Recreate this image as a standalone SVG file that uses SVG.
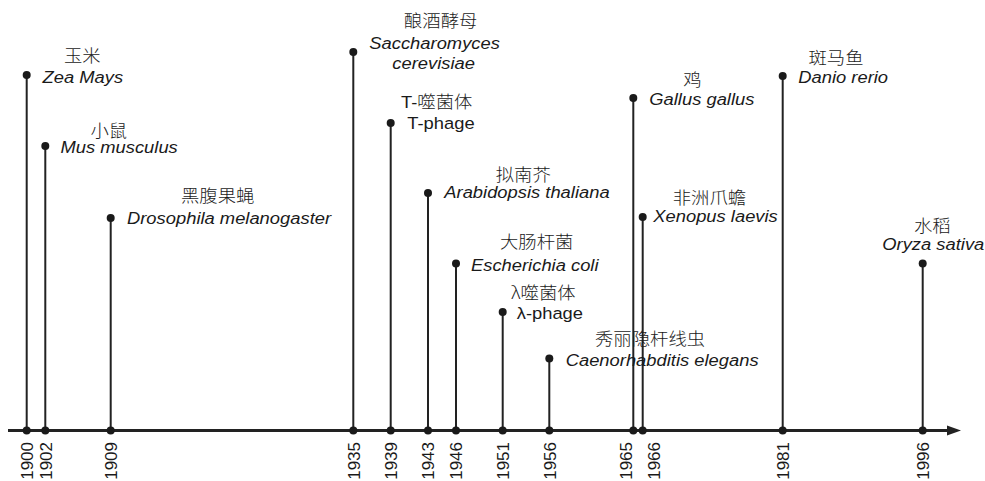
<svg xmlns="http://www.w3.org/2000/svg" width="985" height="481" viewBox="0 0 985 481">
<style>
.t{font-family:"Liberation Sans",Arial,"Noto Sans CJK SC",sans-serif;font-size:17px;fill:#1a1a1a}
.i{font-style:italic}
.zh{font-family:"Noto Sans CJK SC","Liberation Sans",sans-serif;font-weight:300}
.yr{text-anchor:end;font-size:17px}
.stem{stroke:#222;stroke-width:2;fill:none}
.dot{fill:#1a1a1a}
</style>
<rect width="985" height="481" fill="#fff"/>
<g id="connectors">
<line x1="8" y1="430.5" x2="950" y2="430.5" stroke="#222" stroke-width="3"/>
<polygon points="947,425.5 961,430.5 947,435.5" fill="#222"/>
<line class="stem" x1="26.7" y1="75" x2="26.7" y2="430"/>
<line class="stem" x1="45.3" y1="146" x2="45.3" y2="430"/>
<line class="stem" x1="110.7" y1="218" x2="110.7" y2="430"/>
<line class="stem" x1="353.3" y1="52" x2="353.3" y2="430"/>
<line class="stem" x1="390.7" y1="123" x2="390.7" y2="430"/>
<line class="stem" x1="428" y1="193" x2="428" y2="430"/>
<line class="stem" x1="456" y1="263.5" x2="456" y2="430"/>
<line class="stem" x1="502.7" y1="312" x2="502.7" y2="430"/>
<line class="stem" x1="549.3" y1="358.5" x2="549.3" y2="430"/>
<line class="stem" x1="633.3" y1="98" x2="633.3" y2="430"/>
<line class="stem" x1="642.7" y1="217" x2="642.7" y2="430"/>
<line class="stem" x1="782.7" y1="76" x2="782.7" y2="430"/>
<line class="stem" x1="922.7" y1="263.5" x2="922.7" y2="430"/>
</g>
<g id="n1900">
<circle class="dot" cx="26.7" cy="75" r="4"/><circle class="dot" cx="26.7" cy="430.5" r="4"/>
<text class="t zh" transform="matrix(1.08 0 0 1 64 62)">玉米</text>
<text class="t i" transform="matrix(1.08 0 0 1 42.5 83)">Zea Mays</text>
<text class="t yr" transform="translate(33 442) rotate(-90)">1900</text>
</g>
<g id="n1902">
<circle class="dot" cx="45.3" cy="146" r="4"/><circle class="dot" cx="45.3" cy="430.5" r="4"/>
<text class="t zh" transform="matrix(1.08 0 0 1 90.5 137)">小鼠</text>
<text class="t i" transform="matrix(1.08 0 0 1 60.5 153)">Mus musculus</text>
<text class="t yr" transform="translate(51.6 442) rotate(-90)">1902</text>
</g>
<g id="n1909">
<circle class="dot" cx="110.7" cy="218" r="4"/><circle class="dot" cx="110.7" cy="430.5" r="4"/>
<text class="t zh" transform="matrix(1.08 0 0 1 181 201.5)">黑腹果蝇</text>
<text class="t i" transform="matrix(1.08 0 0 1 127 224)">Drosophila melanogaster</text>
<text class="t yr" transform="translate(117 442) rotate(-90)">1909</text>
</g>
<g id="n1935">
<circle class="dot" cx="353.3" cy="52" r="4"/><circle class="dot" cx="353.3" cy="430.5" r="4"/>
<text class="t zh" transform="matrix(1.08 0 0 1 404 27)">酿酒酵母</text>
<text class="t i" transform="matrix(1.08 0 0 1 369.3 49)">Saccharomyces</text>
<text class="t i" transform="matrix(1.08 0 0 1 392.3 68.5)">cerevisiae</text>
<text class="t yr" transform="translate(359.6 442) rotate(-90)">1935</text>
</g>
<g id="n1939">
<circle class="dot" cx="390.7" cy="123" r="4"/><circle class="dot" cx="390.7" cy="430.5" r="4"/>
<text class="t" transform="matrix(1.08 0 0 1 401 108)">T-<tspan class="zh">噬菌体</tspan></text>
<text class="t" transform="matrix(1.08 0 0 1 407.3 128.5)">T-phage</text>
<text class="t yr" transform="translate(397 442) rotate(-90)">1939</text>
</g>
<g id="n1943">
<circle class="dot" cx="428" cy="193" r="4"/><circle class="dot" cx="428" cy="430.5" r="4"/>
<text class="t zh" transform="matrix(1.08 0 0 1 495.7 180.5)">拟南芥</text>
<text class="t i" transform="matrix(1.08 0 0 1 444.3 198)">Arabidopsis thaliana</text>
<text class="t yr" transform="translate(434.3 442) rotate(-90)">1943</text>
</g>
<g id="n1946">
<circle class="dot" cx="456" cy="263.5" r="4"/><circle class="dot" cx="456" cy="430.5" r="4"/>
<text class="t zh" transform="matrix(1.08 0 0 1 500 248)">大肠杆菌</text>
<text class="t i" transform="matrix(1.08 0 0 1 471 270.5)">Escherichia coli</text>
<text class="t yr" transform="translate(462.3 442) rotate(-90)">1946</text>
</g>
<g id="n1951">
<circle class="dot" cx="502.7" cy="312" r="4"/><circle class="dot" cx="502.7" cy="430.5" r="4"/>
<text class="t zh" transform="matrix(1.08 0 0 1 511 299)">λ噬菌体</text>
<text class="t" transform="matrix(1.08 0 0 1 516.7 319)">λ-phage</text>
<text class="t yr" transform="translate(509 442) rotate(-90)">1951</text>
</g>
<g id="n1956">
<circle class="dot" cx="549.3" cy="358.5" r="4"/><circle class="dot" cx="549.3" cy="430.5" r="4"/>
<text class="t zh" transform="matrix(1.08 0 0 1 595 345)">秀丽隐杆线虫</text>
<text class="t i" transform="matrix(1.08 0 0 1 565.7 365.5)">Caenorhabditis elegans</text>
<text class="t yr" transform="translate(555.6 442) rotate(-90)">1956</text>
</g>
<g id="n1965">
<circle class="dot" cx="633.3" cy="98" r="4"/><circle class="dot" cx="633.3" cy="430.5" r="4"/>
<text class="t zh" transform="matrix(1.08 0 0 1 683.3 86)">鸡</text>
<text class="t i" transform="matrix(1.08 0 0 1 649.3 104.5)">Gallus gallus</text>
<text class="t yr" transform="translate(631.5 442) rotate(-90)">1965</text>
</g>
<g id="n1966">
<circle class="dot" cx="642.7" cy="217" r="4"/><circle class="dot" cx="642.7" cy="430.5" r="4"/>
<text class="t zh" transform="matrix(1.08 0 0 1 672.7 204)">非洲爪蟾</text>
<text class="t i" transform="matrix(1.08 0 0 1 653.3 222)">Xenopus laevis</text>
<text class="t yr" transform="translate(660 442) rotate(-90)">1966</text>
</g>
<g id="n1981">
<circle class="dot" cx="782.7" cy="76" r="4"/><circle class="dot" cx="782.7" cy="430.5" r="4"/>
<text class="t zh" transform="matrix(1.08 0 0 1 808.5 64)">斑马鱼</text>
<text class="t i" transform="matrix(1.08 0 0 1 798.3 82.5)">Danio rerio</text>
<text class="t yr" transform="translate(789.3 442) rotate(-90)">1981</text>
</g>
<g id="n1996">
<circle class="dot" cx="922.7" cy="263.5" r="4"/><circle class="dot" cx="922.7" cy="430.5" r="4"/>
<text class="t zh" transform="matrix(1.08 0 0 1 914 232)">水稻</text>
<text class="t i" transform="matrix(1.08 0 0 1 882.3 249.5)">Oryza sativa</text>
<text class="t yr" transform="translate(929.3 442) rotate(-90)">1996</text>
</g>
</svg>
